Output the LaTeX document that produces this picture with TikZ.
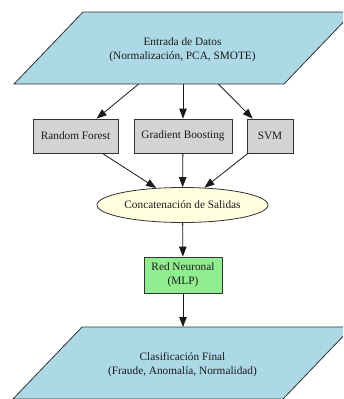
\documentclass[tikz,border=0pt]{standalone}
\usepackage{fontspec}
\setmainfont{Liberation Serif}
\usetikzlibrary{shapes.geometric,arrows.meta}
\definecolor{pblue}{HTML}{ADD8E6}
\definecolor{pgray}{HTML}{D3D3D3}
\definecolor{pyellow}{HTML}{FFFFE0}
\definecolor{pgreen}{HTML}{90EE90}
\definecolor{ptext}{HTML}{1A1A1A}
\tikzset{
  txt/.style={font=\fontsize{11.3}{13.5}\selectfont, text=ptext, align=center, inner sep=0pt},
  base/.style={txt, draw=black!80, line width=0.8pt},
  ioshape/.style={draw=black!80, line width=0.8pt, fill=pblue},
  modelbox/.style={base, rectangle, fill=pgray, minimum height=34pt},
  mergebox/.style={base, ellipse, fill=pyellow, minimum width=171pt, minimum height=35pt},
  netbox/.style={base, rectangle, fill=pgreen, minimum width=78pt, minimum height=36pt},
  link/.style={line width=0.8pt, draw=black!90, -{Triangle[length=10pt,width=7.5pt]}}
}
\begin{document}
\begin{tikzpicture}[x=1pt,y=-1pt]
\useasboundingbox (0,0) rectangle (343,399);
\clip (0,0) rectangle (343,399);
\fill[white] (0,0) rectangle (343,399);
% input parallelogram
\draw[ioshape] (14,84) -- (83,12) -- (353,12) -- (284,84) -- cycle;
\node[txt] (in) at (182.5,50) {Entrada de Datos\\(Normalización, PCA, SMOTE)};
\coordinate (inrf) at (138.7,84);
\coordinate (ingb) at (183,84);
\coordinate (insvm) at (218.3,84);
% output parallelogram
\draw[ioshape] (13,399) -- (82,327) -- (352,327) -- (283,399) -- cycle;
\node[txt] (out) at (182.5,364.5) {Clasificación Final\\(Fraude, Anomalía, Normalidad)};
\coordinate (outtop) at (183,327);
% models
\node[modelbox, minimum width=85pt] (rf) at (75.5,136) {Random Forest};
\node[modelbox, minimum width=98pt] (gb) at (183,136) {Gradient Boosting};
\node[modelbox, minimum width=46pt] (svm) at (270,136) {SVM};
\node[mergebox] (cat) at (182.5,205) {Concatenación de Salidas};
\node[netbox] (mlp) at (183,275) {Red Neuronal\\(MLP)};
\draw[link] (inrf) -- (rf);
\draw[link] (ingb) -- (gb);
\draw[link] (insvm) -- (svm);
\draw[link] (rf) -- (cat);
\draw[link] (gb) -- (cat);
\draw[link] (svm) -- (cat);
\draw[link] (cat) -- (mlp);
\draw[link] (mlp) -- (outtop);
\end{tikzpicture}
\end{document}
